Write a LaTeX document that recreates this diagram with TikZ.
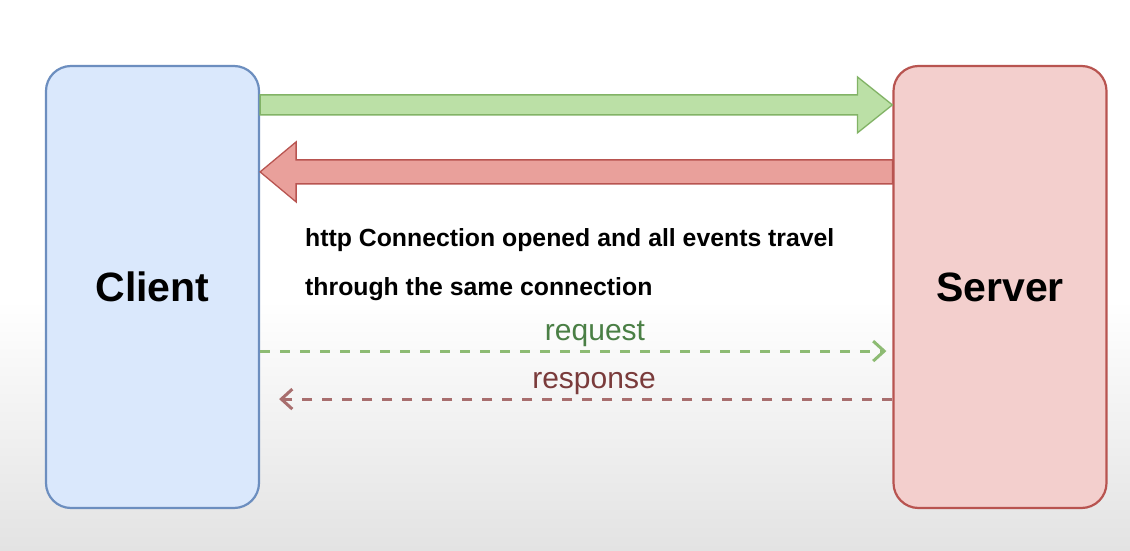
\documentclass[tikz,border=0pt]{standalone}
\usepackage{fontspec}
\setmainfont{Liberation Sans}
\usepackage{tikz}
\usetikzlibrary{calc,arrows.meta}

\definecolor{clientfill}{HTML}{DAE8FC}
\definecolor{clientline}{HTML}{6C8EBF}
\definecolor{serverfill}{HTML}{F3CFCD}
\definecolor{serverline}{HTML}{B85450}
\definecolor{greenfill}{HTML}{BBE0A6}
\definecolor{greenline}{HTML}{82B366}
\definecolor{redfill}{HTML}{E9A09B}
\definecolor{redline}{HTML}{B85450}
\definecolor{reqtext}{HTML}{4A7F45}
\definecolor{reqdash}{HTML}{8DBB73}
\definecolor{restext}{HTML}{7A3B3B}
\definecolor{resdash}{HTML}{A86E6E}

\tikzset{
  endpoint/.style={draw, line width=2.2pt, rounded corners=25pt, minimum width=213pt,
    minimum height=442pt, inner sep=0pt, font=\bfseries\fontsize{41}{49}\selectfont},
  fatarrow/.style={line width=1.3pt, line join=miter},
  dashline/.style={line width=3pt, dash pattern=on 10pt off 10pt,
    -{Straight Barb[length=11pt,width=20pt,line width=3pt]}},
  msg/.style={anchor=base, inner sep=0pt, font=\fontsize{30}{36}\selectfont}
}

\begin{document}
\begin{tikzpicture}[x=1pt,y=1pt]
  \useasboundingbox (0,0) rectangle (1130,550);
  \fill[white] (0,250) rectangle (1130,550);
  \shade[top color=white, bottom color=black!11] (0,0) rectangle (1130,250);

 \node[endpoint, fill=clientfill, draw=clientline] (client) at (152.5,263) {Client};
 \node[endpoint, fill=serverfill, draw=serverline] (server) at (1000,263) {Server};

 % connection arrows
 \draw[fatarrow, fill=greenfill, draw=greenline]
   ($(client.north east)+(0,-30)$) -- ($(server.north west)+(-35,-30)$)
   -- ($(server.north west)+(-35,-12)$) -- ($(server.north west)+(0,-40)$)
   -- ($(server.north west)+(-35,-68)$) -- ($(server.north west)+(-35,-50)$)
   -- ($(client.north east)+(0,-50)$) -- cycle;
 \draw[fatarrow, fill=redfill, draw=redline]
   ($(server.north west)+(0,-95)$) -- ($(client.north east)+(36,-95)$)
   -- ($(client.north east)+(36,-77)$) -- ($(client.north east)+(0,-107)$)
   -- ($(client.north east)+(36,-137)$) -- ($(client.north east)+(36,-119)$)
   -- ($(server.north west)+(0,-119)$) -- cycle;

 \node[anchor=base west, inner sep=0pt, font=\bfseries\fontsize{24.8}{30}\selectfont]
   (note1) at (305,304) {http Connection opened and all events travel};
 \node[anchor=base west, inner sep=0pt, font=\bfseries\fontsize{24.8}{30}\selectfont]
   (note2) at (305,255) {through the same connection};

 % request / response
 \draw[dashline, draw=reqdash, shorten >=6pt]
   ($(client.south east)+(0,158)$) -- ($(server.south west)+(0,158)$);
 \draw[dashline, draw=resdash, shorten >=19pt]
   ($(server.south west)+(0,110)$) -- ($(client.south east)+(0,110)$);

\node[msg, text=reqtext] (req) at (595,210) {request};
\node[msg, text=restext] (res) at (594,162) {response};

\end{tikzpicture}
\end{document}
